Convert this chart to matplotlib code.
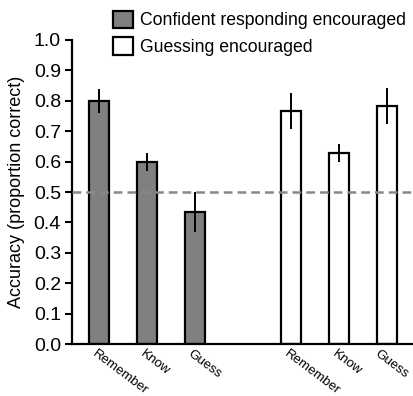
import matplotlib.pyplot as plt
from matplotlib.patches import Patch
from matplotlib.transforms import ScaledTranslation

plt.rcParams['font.family'] = ['Liberation Sans', 'DejaVu Sans']

labels = ['Remember', 'Know', 'Guess']
confident = [0.80, 0.60, 0.434]
confident_err = [0.04, 0.03, 0.065]
guessing = [0.767, 0.628, 0.783]
guessing_err = [0.06, 0.03, 0.06]

pos1 = [0, 1, 2]
pos2 = [4, 5, 6]

fig = plt.figure(figsize=(4.14, 3.96), dpi=100)
ax = fig.add_axes([0.174, 0.131, 0.821, 0.768])

ax.bar(pos1, confident, width=0.42, color='#808080', edgecolor='black', linewidth=1.6, zorder=2)
ax.bar(pos2, guessing, width=0.42, color='white', edgecolor='black', linewidth=1.6, zorder=2)
ax.errorbar(pos1, confident, yerr=confident_err, fmt='none', ecolor='black', elinewidth=1.4, capsize=0, zorder=4)
ax.errorbar(pos2, guessing, yerr=guessing_err, fmt='none', ecolor='black', elinewidth=1.4, capsize=0, zorder=4)
ax.axhline(0.5, color='#888888', linestyle=(0, (3.5, 2)), linewidth=1.8, zorder=3)

ax.set_xlim(-0.5625, 6.52)
ax.set_ylim(0, 1.0)
ax.set_yticks([i / 10 for i in range(11)])
ax.set_yticklabels(['%.1f' % (i / 10) for i in range(11)], fontsize=14)
ax.set_xticks([])
ax.tick_params(axis='y', length=5, width=1.5, pad=3)

# rotated category labels under the bars (last one nudged left so it stays in frame)
all_pos = pos1 + pos2
all_labels = labels + labels
for i, (p, lab) in enumerate(zip(all_pos, all_labels)):
    dx = -7 if i == len(all_pos) - 1 else -2
    tr = ax.get_xaxis_transform() + ScaledTranslation(dx / 100, -4 / 100, fig.dpi_scale_trans)
    ax.text(p, 0, lab, transform=tr, fontsize=9.6, rotation=-37, ha='left', va='top',
            rotation_mode='anchor', clip_on=False)

for s in ['top', 'right']:
    ax.spines[s].set_visible(False)
for s in ['left', 'bottom']:
    ax.spines[s].set_linewidth(1.6)
ax.set_ylabel('Accuracy (proportion correct)', fontsize=13, labelpad=6)

handles = [Patch(facecolor='#808080', edgecolor='black', linewidth=1.6),
           Patch(facecolor='white', edgecolor='black', linewidth=1.6)]
fig.legend(handles, ['Confident responding encouraged', 'Guessing encouraged'],
           loc='upper left', bbox_to_anchor=(0.248, 1.0), frameon=False, fontsize=12.7,
           handlelength=1.1, handleheight=1.15, handletextpad=0.4, labelspacing=0.45,
           borderaxespad=0.2)

fig.savefig('out.png', dpi=100)
